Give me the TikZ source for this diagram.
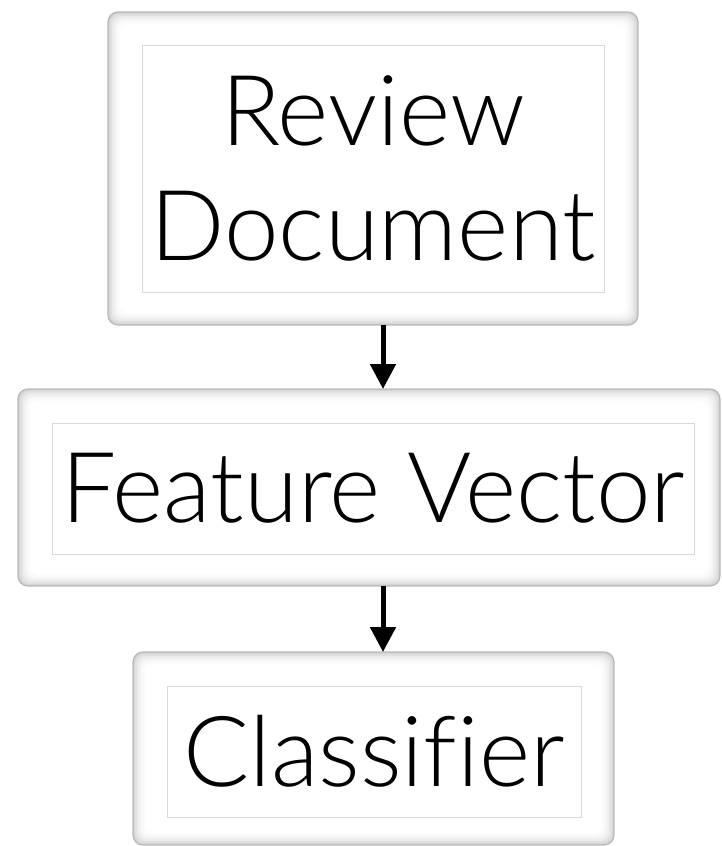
\documentclass[tikz,border=0pt]{standalone}
\usepackage{fontspec}
\IfFontExistsTF{Lato Light}{\setmainfont{Lato Light}[Ligatures=CommonOff]}{\setmainfont{Liberation Sans}}
\usetikzlibrary{arrows.meta}
\tikzset{
  outerbox/.style={draw=gray!55, line width=1.2pt, rounded corners=10pt, inner sep=0pt, outer sep=0pt,
    path picture={
      \foreach \d/\c in {0/34,2/24,4/16,6/10,8/5,10/2,12/0}{
        \fill[gray!\c, rounded corners=9pt]
          ([shift={(\d,\d)}]path picture bounding box.north west) rectangle
          ([shift={(-\d,-\d)}]path picture bounding box.south east);
      }
    }},
  innerbox/.style={draw=gray!30, line width=0.9pt, fill=white, inner sep=0pt, outer sep=0pt,
    align=center, font=\fontsize{98}{115}\selectfont},
  arr/.style={line width=5pt, -{Triangle[length=25pt,width=25pt]}}
}
\begin{document}
\begin{tikzpicture}[x=1pt,y=-1pt]
\useasboundingbox[fill=white] (0,0) rectangle (722,846);
\node[outerbox, minimum width=530pt, minimum height=313pt] (b1) at (373,168.5) {};
\node[innerbox, minimum width=462pt, minimum height=247pt] (i1) at (373,168.5) {Review\\Document};
\node[outerbox, minimum width=702pt, minimum height=197pt] (b2) at (369,487.5) {};
\node[innerbox, minimum width=642pt, minimum height=131pt] (i2) at (373,488.5) {Feature Vector};
\node[outerbox, minimum width=481pt, minimum height=193pt] (b3) at (373.5,748.5) {};
\node[innerbox, minimum width=414pt, minimum height=131pt] (i3) at (374,751.5) {Classifier};
\coordinate (ax) at (383,0);
\draw[arr] (b1.south -| ax) -- (b2.north -| ax);
\draw[arr] (b2.south -| ax) -- (b3.north -| ax);
\end{tikzpicture}
\end{document}
